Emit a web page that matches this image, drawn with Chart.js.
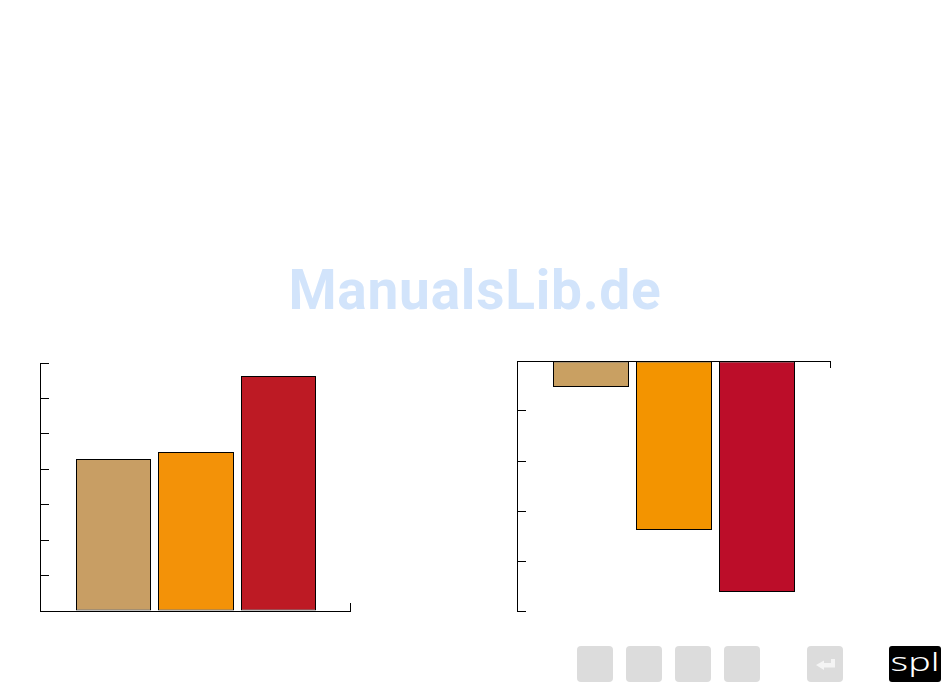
<!DOCTYPE html>
<html>
<head>
<meta charset="utf-8">
<title>ManualsLib.de</title>
<script src="https://cdn.jsdelivr.net/npm/chart.js@4"></script>
<style>
  html, body { margin: 0; padding: 0; background: #fff; }
  body { position: relative; width: 950px; height: 686px; overflow: hidden; }
  .plot { position: absolute; top: 350px; width: 400px; height: 280px; }
  #watermark {
    position: absolute; left: 0; width: 950px; top: 260px; text-align: center;
    font: 700 55px/60px Roboto, sans-serif; color: #d2e4fb; letter-spacing: 0.75px;
  }
  .btn { position: absolute; top: 646px; width: 36px; height: 36px; background: #dcdcdc; border-radius: 4px; }
  #logo {
    position: absolute; left: 889px; top: 646px; width: 52px; height: 36px;
    background: #000; border-radius: 3px; overflow: hidden;
  }
  #logo span {
    display: block; color: #fff; text-align: center;
    font: 300 25px/30px "Noto Sans", sans-serif; transform: scaleX(1.5);
  }
</style>
</head>
<body>
<div id="watermark">ManualsLib.de</div>
<div class="plot" style="left:0"><canvas id="left" width="400" height="280"></canvas></div>
<div class="plot" style="left:480px"><canvas id="right" width="400" height="280"></canvas></div>
<div class="btn" style="left:577px"></div>
<div class="btn" style="left:626px"></div>
<div class="btn" style="left:675px"></div>
<div class="btn" style="left:724px"></div>
<div class="btn" style="left:807px">
  <svg width="36" height="36"><path d="M9 19 L17 14.5 V17 H24 V13 H28 V21.5 H17 V24 Z" fill="#f4f4f4"/></svg>
</div>
<div id="logo"><span>spl</span></div>
<script>
const barPositions = [1, 2, 3];
const leftValues = [4.2903, 4.4879, 6.6331];
const rightValues = [-0.52, -3.38, -4.62];
const leftColors = ["#c89e64", "#f39208", "#bd1a24"];
const rightColors = ["#c9a062", "#f39400", "#bc0d29"];

function makeChart(id, values, colors, opts) {
  return new Chart(document.getElementById(id), {
    type: "bar",
    data: {
      // one dataset per bar so each can have its own width
      datasets: barPositions.map((x, i) => ({
        data: [{ x: x, y: values[i] }],
        backgroundColor: colors[i],
        borderColor: "#000",
        borderWidth: 1,
        borderSkipped: false,
        grouped: false,
        categoryPercentage: 1,
        barPercentage: opts.barPct[i]
      }))
    },
    options: {
      responsive: false,
      animation: false,
      layout: { padding: opts.padding },
      plugins: { legend: { display: false }, tooltip: { enabled: false } },
      scales: {
        x: {
          type: "linear",
          position: opts.xPos,
          offset: false,
          min: opts.xMin,
          max: opts.xMax,
          border: { color: "#000", width: 1 },
          grid: { offset: false, drawOnChartArea: false, color: "#000", tickLength: opts.xTick },
          ticks: { display: false },
          // only the far end of this axis has a tick
          afterBuildTicks: s => { s.ticks = [{ value: opts.xMax }]; },
          afterFit: s => { s.height = 0; }
        },
        y: {
          min: opts.yMin,
          max: opts.yMax,
          border: { color: "#000", width: 1 },
          grid: { drawOnChartArea: false, color: "#000", tickLength: -9 },
          ticks: { display: false, stepSize: 1 },
          afterFit: s => { s.width = 0; }
        }
      }
    }
  });
}

makeChart("left", leftValues, leftColors, {
  padding: { left: 40, top: 13, right: 50, bottom: 19 },
  xPos: "bottom", xMin: 0.10909, xMax: 3.86667, xTick: -8,
  yMin: 0, yMax: 7, barPct: [75 / 82.5, 76 / 82.5, 75 / 82.5]
});
makeChart("right", rightValues, rightColors, {
  padding: { left: 37, top: 11, right: 50, bottom: 19 },
  xPos: "top", xMin: 0.10843, xMax: 3.87952, xTick: -7,
  yMin: -5, yMax: 0, barPct: [76 / 83, 76 / 83, 76 / 83]
});
</script>
</body>
</html>
